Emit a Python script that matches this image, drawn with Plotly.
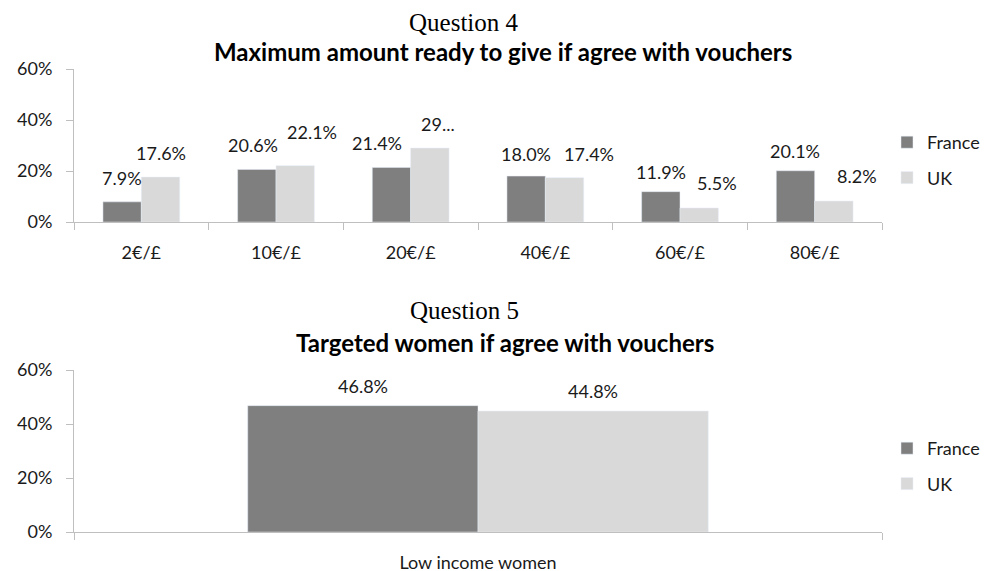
import plotly.graph_objects as go

# ---- data ----
q4_categories = ["2€/£", "10€/£", "20€/£", "40€/£", "60€/£", "80€/£"]
q4_france = [7.9, 20.6, 21.4, 18.0, 11.9, 20.1]
q4_uk = [17.6, 22.1, 29.0, 17.4, 5.5, 8.2]
q4_france_labels = ["7.9%", "20.6%", "21.4%", "18.0%", "11.9%", "20.1%"]
q4_uk_labels = ["17.6%", "22.1%", "29...", "17.4%", "5.5%", "8.2%"]

q5_categories = ["Low income women"]
q5_france = [46.8]
q5_uk = [44.8]
q5_france_labels = ["46.8%"]
q5_uk_labels = ["44.8%"]

y_ticks = [0, 20, 40, 60]
y_tick_labels = ["0%", "20%", "40%", "60%"]
series_names = ["France", "UK"]

# ---- style ----
W, H = 997, 571
PAGE_OFF = 8  # the page body margin offsets the figure by this many pixels
FONT = "Lato"
C_FR = "#7f7f7f"
C_UK = "#d9d9d9"
AX = "#bfbfbf"
TXT = "#1a1a1a"
BARGAP = 0.43
half = (1 - BARGAP) / 4  # offset of each bar centre from category centre

# manual label nudges in pixels (mimic the original label placement)
q4_fr_nudge_x = [0, -4, -14, 0, 0, 0]
q4_uk_nudge_x = [0, 17, 8, 24, 18, 23]
q4_fr_nudge_y = [0, 0, 0, -2, -4, -4]
q4_uk_nudge_y = [0, 10, 0, 0, 1, 1]


def px_y(p):
    return 1 - (p - PAGE_OFF) / H


def px_x(p):
    return (p - PAGE_OFF) / W


fig = go.Figure()

fig.add_trace(go.Bar(x=q4_categories, y=q4_france, name=series_names[0], marker_color=C_FR,
                     xaxis="x", yaxis="y", legend="legend", legendgroup="f1"))
fig.add_trace(go.Bar(x=q4_categories, y=q4_uk, name=series_names[1], marker_color=C_UK,
                     xaxis="x", yaxis="y", legend="legend", legendgroup="u1"))
fig.add_trace(go.Bar(x=q5_categories, y=q5_france, name=series_names[0], marker_color=C_FR,
                     xaxis="x2", yaxis="y2", legend="legend2", legendgroup="f2"))
fig.add_trace(go.Bar(x=q5_categories, y=q5_uk, name=series_names[1], marker_color=C_UK,
                     xaxis="x2", yaxis="y2", legend="legend2", legendgroup="u2"))

annotations = []


def add_labels(vals, labels, sign, xref, yref, base_shift, nx=None, ny=None):
    for i, (v, t) in enumerate(zip(vals, labels)):
        dx = nx[i] if nx else 0
        dy = ny[i] if ny else 0
        annotations.append(dict(x=i + sign * half, y=v, xref=xref, yref=yref, text=t,
                                showarrow=False, xanchor="center", yanchor="bottom",
                                yshift=base_shift + dy, xshift=dx,
                                font=dict(family=FONT, size=18, color=TXT)))


add_labels(q4_france, q4_france_labels, -1, "x", "y", 11, q4_fr_nudge_x, q4_fr_nudge_y)
add_labels(q4_uk, q4_uk_labels, 1, "x", "y", 11, q4_uk_nudge_x, q4_uk_nudge_y)
add_labels(q5_france, q5_france_labels, -1, "x2", "y2", 7)
add_labels(q5_uk, q5_uk_labels, 1, "x2", "y2", 7)


def title(text, cx, cy, family, size, yanchor="middle"):
    return dict(text=text, x=px_x(cx), y=px_y(cy), xref="paper", yref="paper", showarrow=False,
                xanchor="center", yanchor=yanchor, borderpad=0,
                font=dict(family=family, size=size, color="#000"))


annotations += [
    title("Question 4", 464, PAGE_OFF, "Liberation Serif", 25, yanchor="top"),
    title("<b>Maximum amount ready to give if agree with vouchers</b>", 503, 52, FONT, 24),
    title("Question 5", 464, 310, "Liberation Serif", 25),
    title("<b>Targeted women if agree with vouchers</b>", 505, 342, FONT, 24),
]

xdom = [px_x(74), px_x(882)]
axis_common = dict(showline=True, linecolor=AX, linewidth=1, showgrid=False, zeroline=False,
                   ticks="outside", tickcolor=AX, ticklen=7, automargin=False,
                   tickfont=dict(family=FONT, size=18, color=TXT))

fig.update_layout(
    width=W, height=H,
    margin=dict(l=0, r=0, t=0, b=0, autoexpand=False),
    paper_bgcolor="white", plot_bgcolor="white",
    barmode="group", bargap=BARGAP, bargroupgap=0,
    font=dict(family=FONT, size=18, color=TXT),
    xaxis=dict(domain=xdom, anchor="y", tickson="boundaries", ticklabelstandoff=14, **axis_common),
    yaxis=dict(domain=[px_y(222), px_y(69)], anchor="x", range=[0, 60], tickvals=y_ticks,
               ticktext=y_tick_labels, ticklabelstandoff=10, **axis_common),
    xaxis2=dict(domain=xdom, anchor="y2", tickson="boundaries", ticklabelstandoff=14, **axis_common),
    yaxis2=dict(domain=[px_y(532), px_y(370)], anchor="x2", range=[0, 60], tickvals=y_ticks,
                ticktext=y_tick_labels, ticklabelstandoff=10, **axis_common),
    legend=dict(x=px_x(887), y=px_y(160), xanchor="left", yanchor="middle",
                tracegroupgap=9, font=dict(family=FONT, size=18, color=TXT), bgcolor="rgba(0,0,0,0)"),
    legend2=dict(x=px_x(887), y=px_y(466), xanchor="left", yanchor="middle",
                 tracegroupgap=9, font=dict(family=FONT, size=18, color=TXT), bgcolor="rgba(0,0,0,0)"),
    annotations=annotations,
    showlegend=True,
)

fig.write_html("out.html")
